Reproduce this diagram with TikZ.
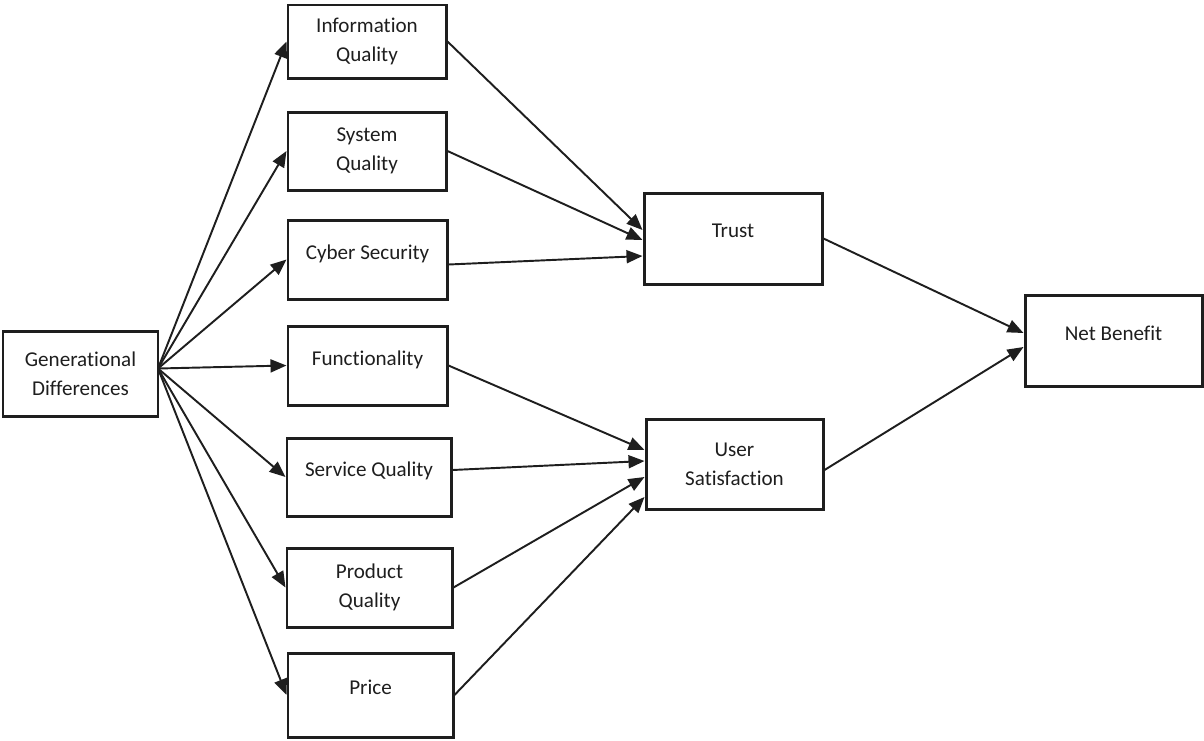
\documentclass[tikz,border=0pt]{standalone}
\usepackage{fontspec}
\setmainfont{Carlito}[Ligatures=NoCommon]
\usepackage{tikz}
\usetikzlibrary{arrows.meta, positioning, calc}
\definecolor{ink}{RGB}{30,30,30}

\begin{document}
\begin{tikzpicture}[>={Triangle[length=0.32cm, width=0.26cm]},
  box/.style={rectangle, draw=ink, line width=1.7pt, align=center,
  text=ink, font=\fontsize{12}{16.5}\selectfont, inner sep=1pt},
  lift/.style={text depth=0.3cm},
  link/.style={->, draw=ink, line width=1.1pt}]
  \useasboundingbox (0,0) rectangle (24.08,-14.8);
  \node[box, minimum width=3.1cm, minimum height=1.7cm] (gen) at (1.61,-7.47)
    {Generational\\Differences};
  \node[box, minimum width=3.16cm, minimum height=1.46cm] (info) at (7.34,-0.83)
    {Information\\Quality};
  \node[box, minimum width=3.16cm, minimum height=1.56cm] (sys) at (7.34,-3.02)
    {System\\Quality};
  \node[box, lift, minimum width=3.18cm, minimum height=1.58cm] (cyber) at (7.35,-5.19)
    {Cyber Security};
  \node[box, lift, minimum width=3.18cm, minimum height=1.58cm] (func) at (7.35,-7.31)
    {Functionality};
  \node[box, lift, minimum width=3.28cm, minimum height=1.56cm] (serv) at (7.38,-9.54)
    {Service Quality};
  \node[box, minimum width=3.3cm, minimum height=1.58cm] (prod) at (7.39,-11.75)
    {Product\\Quality};
  \node[box, lift, minimum width=3.3cm, minimum height=1.68cm] (price) at (7.41,-13.9)
    {Price};
  \node[box, lift, minimum width=3.56cm, minimum height=1.82cm] (trust) at (14.66,-4.77)
    {Trust};
  \node[box, minimum width=3.54cm, minimum height=1.8cm] (us) at (14.69,-9.28)
    {User\\Satisfaction};
  \node[box, lift, minimum width=3.54cm, minimum height=1.82cm] (net) at (22.27,-6.81)
    {Net Benefit};
  \coordinate (fan) at (3.16,-7.37);
  % fan out
  \foreach \t in {info, sys, cyber, func, serv, prod, price}
    \draw[link] (fan) -- (\t.west);
  % into trust
  \draw[link] (info.east) -- ([yshift=0.17cm]trust.west);
  \draw[link] (sys.east) -- ([yshift=-0.03cm]trust.west);
  \draw[link] ([yshift=-0.1cm]cyber.east) -- ([yshift=-0.35cm]trust.west);
  % into user satisfaction
  \draw[link] (func.east) -- ([yshift=0.28cm]us.west);
  \draw[link] ([yshift=0.14cm]serv.east) -- ([yshift=0.06cm]us.west);
  \draw[link] (prod.east) -- ([yshift=-0.26cm]us.west);
  \draw[link] (price.east) -- ([yshift=-0.66cm]us.west);
  % into net benefit
  \draw[link] (trust.east) -- ([yshift=0.15cm]net.west);
  \draw[link] ([yshift=-0.12cm]us.east) -- ([yshift=-0.13cm]net.west);
\end{tikzpicture}
\end{document}
